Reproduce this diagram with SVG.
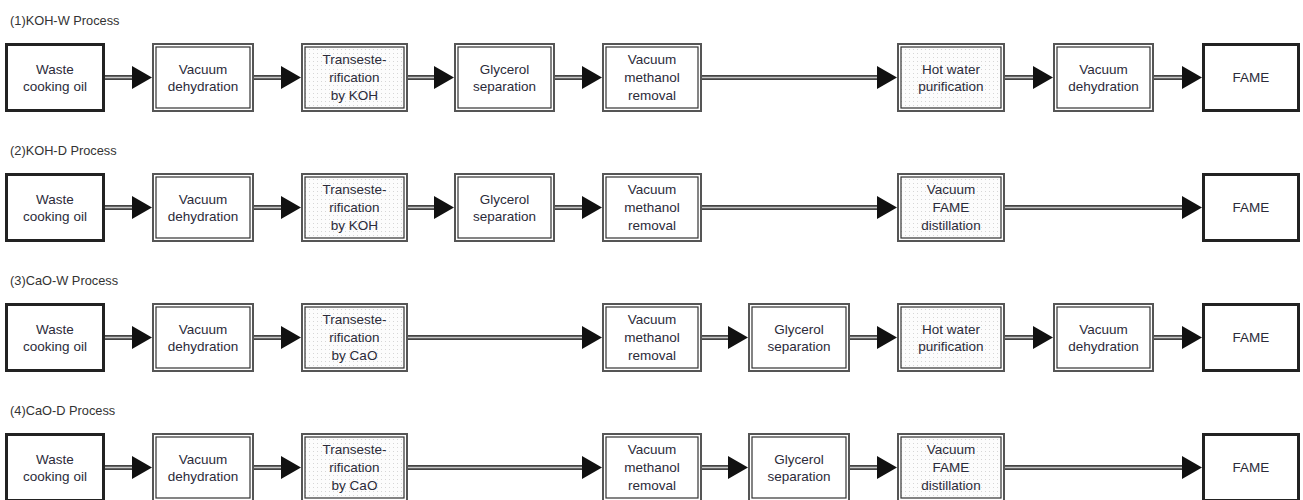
<svg xmlns="http://www.w3.org/2000/svg" width="1303" height="500" viewBox="0 0 1303 500">
<style>
.ttl{font-family:"Liberation Sans",Arial,sans-serif;font-size:12.8px;fill:#333}
.lbl{font-family:"Liberation Sans",Arial,sans-serif;font-size:13.5px;fill:#2b2b3a;text-anchor:middle}
.o{fill:#fff;stroke:#555;stroke-width:2}
.i{fill:#fff;stroke:#333;stroke-width:1.2}
.d{fill:url(#dots);stroke:#333;stroke-width:1.2}
.t{fill:#fff;stroke:#222;stroke-width:3}
.so{stroke:#444;stroke-width:5;fill:none}
.si{stroke:#c8c8c8;stroke-width:1.4;fill:none}
.h{fill:#111}
</style>
<defs>
<pattern id="dots" width="4" height="4" patternUnits="userSpaceOnUse">
<rect width="4" height="4" fill="#fcfcfc"/>
<rect x="1" y="1" width="1" height="1" fill="#d6d6d6"/>
</pattern>
</defs>
<rect width="1303" height="500" fill="#fff"/>
<g id="titles">
<text class="ttl" x="10" y="25">(1)KOH-W Process</text>
<text class="ttl" x="10" y="155">(2)KOH-D Process</text>
<text class="ttl" x="10" y="285">(3)CaO-W Process</text>
<text class="ttl" x="10" y="415">(4)CaO-D Process</text>
</g>
<g id="connectors">
<g transform="translate(0,0)">
<path class="so" d="M105 77.5H134M254 77.5H283M408 77.5H436M555 77.5H584M702 77.5H879M1005 77.5H1035M1154 77.5H1184"/>
<path class="si" d="M105 77.5H134M254 77.5H283M408 77.5H436M555 77.5H584M702 77.5H879M1005 77.5H1035M1154 77.5H1184"/>
<path class="h" d="M132 66L152 77.5L132 89ZM281 66L301 77.5L281 89ZM434 66L454 77.5L434 89ZM582 66L602 77.5L582 89ZM877 66L897 77.5L877 89ZM1033 66L1053 77.5L1033 89ZM1182 66L1202 77.5L1182 89Z"/>
</g>
<g transform="translate(0,130)">
<path class="so" d="M105 77.5H134M254 77.5H283M408 77.5H436M555 77.5H584M702 77.5H879M1005 77.5H1184"/>
<path class="si" d="M105 77.5H134M254 77.5H283M408 77.5H436M555 77.5H584M702 77.5H879M1005 77.5H1184"/>
<path class="h" d="M132 66L152 77.5L132 89ZM281 66L301 77.5L281 89ZM434 66L454 77.5L434 89ZM582 66L602 77.5L582 89ZM877 66L897 77.5L877 89ZM1182 66L1202 77.5L1182 89Z"/>
</g>
<g transform="translate(0,260)">
<path class="so" d="M105 77.5H134M254 77.5H283M408 77.5H584M702 77.5H730M850 77.5H879M1005 77.5H1035M1154 77.5H1184"/>
<path class="si" d="M105 77.5H134M254 77.5H283M408 77.5H584M702 77.5H730M850 77.5H879M1005 77.5H1035M1154 77.5H1184"/>
<path class="h" d="M132 66L152 77.5L132 89ZM281 66L301 77.5L281 89ZM582 66L602 77.5L582 89ZM728 66L748 77.5L728 89ZM877 66L897 77.5L877 89ZM1033 66L1053 77.5L1033 89ZM1182 66L1202 77.5L1182 89Z"/>
</g>
<g transform="translate(0,390)">
<path class="so" d="M105 77.5H134M254 77.5H283M408 77.5H584M702 77.5H730M850 77.5H879M1005 77.5H1184"/>
<path class="si" d="M105 77.5H134M254 77.5H283M408 77.5H584M702 77.5H730M850 77.5H879M1005 77.5H1184"/>
<path class="h" d="M132 66L152 77.5L132 89ZM281 66L301 77.5L281 89ZM582 66L602 77.5L582 89ZM728 66L748 77.5L728 89ZM877 66L897 77.5L877 89ZM1182 66L1202 77.5L1182 89Z"/>
</g>
</g>

<g id="row1">
<g id="r1-waste"><rect class="t" x="6.5" y="44.5" width="97" height="66"/><text class="lbl" x="55" y="73.5">Waste</text><text class="lbl" x="55" y="90.5">cooking oil</text></g>
<g id="r1-vacdehyd"><rect class="o" x="153" y="44" width="100" height="67"/><rect class="i" x="156" y="47" width="94" height="61"/><text class="lbl" x="203" y="73.5">Vacuum</text><text class="lbl" x="203" y="90.5">dehydration</text></g>
<g id="r1-trans"><rect class="o" x="302" y="44" width="105" height="67"/><rect class="d" x="305" y="47" width="99" height="61"/><text class="lbl" x="354.5" y="64">Transeste-</text><text class="lbl" x="354.5" y="82">rification</text><text class="lbl" x="354.5" y="100">by KOH</text></g>
<g id="r1-glycerol"><rect class="o" x="455" y="44" width="99" height="67"/><rect class="i" x="458" y="47" width="93" height="61"/><text class="lbl" x="504.5" y="73.5">Glycerol</text><text class="lbl" x="504.5" y="90.5">separation</text></g>
<g id="r1-methanol"><rect class="o" x="603" y="44" width="98" height="67"/><rect class="i" x="606" y="47" width="92" height="61"/><text class="lbl" x="652" y="64">Vacuum</text><text class="lbl" x="652" y="82">methanol</text><text class="lbl" x="652" y="100">removal</text></g>
<g id="r1-hotwater"><rect class="o" x="898" y="44" width="106" height="67"/><rect class="d" x="901" y="47" width="100" height="61"/><text class="lbl" x="951" y="73.5">Hot water</text><text class="lbl" x="951" y="90.5">purification</text></g>
<g id="r1-vacdehyd2"><rect class="o" x="1054" y="44" width="99" height="67"/><rect class="i" x="1057" y="47" width="93" height="61"/><text class="lbl" x="1103.5" y="73.5">Vacuum</text><text class="lbl" x="1103.5" y="90.5">dehydration</text></g>
<g id="r1-fame"><rect class="t" x="1203.5" y="44.5" width="95" height="66"/><text class="lbl" x="1251" y="82">FAME</text></g>
</g>

<g id="row2" transform="translate(0,130)">
<g id="r2-waste"><rect class="t" x="6.5" y="44.5" width="97" height="66"/><text class="lbl" x="55" y="73.5">Waste</text><text class="lbl" x="55" y="90.5">cooking oil</text></g>
<g id="r2-vacdehyd"><rect class="o" x="153" y="44" width="100" height="67"/><rect class="i" x="156" y="47" width="94" height="61"/><text class="lbl" x="203" y="73.5">Vacuum</text><text class="lbl" x="203" y="90.5">dehydration</text></g>
<g id="r2-trans"><rect class="o" x="302" y="44" width="105" height="67"/><rect class="d" x="305" y="47" width="99" height="61"/><text class="lbl" x="354.5" y="64">Transeste-</text><text class="lbl" x="354.5" y="82">rification</text><text class="lbl" x="354.5" y="100">by KOH</text></g>
<g id="r2-glycerol"><rect class="o" x="455" y="44" width="99" height="67"/><rect class="i" x="458" y="47" width="93" height="61"/><text class="lbl" x="504.5" y="73.5">Glycerol</text><text class="lbl" x="504.5" y="90.5">separation</text></g>
<g id="r2-methanol"><rect class="o" x="603" y="44" width="98" height="67"/><rect class="i" x="606" y="47" width="92" height="61"/><text class="lbl" x="652" y="64">Vacuum</text><text class="lbl" x="652" y="82">methanol</text><text class="lbl" x="652" y="100">removal</text></g>
<g id="r2-distill"><rect class="o" x="898" y="44" width="106" height="67"/><rect class="d" x="901" y="47" width="100" height="61"/><text class="lbl" x="951" y="64">Vacuum</text><text class="lbl" x="951" y="82">FAME</text><text class="lbl" x="951" y="100">distillation</text></g>
<g id="r2-fame"><rect class="t" x="1203.5" y="44.5" width="95" height="66"/><text class="lbl" x="1251" y="82">FAME</text></g>
</g>

<g id="row3" transform="translate(0,260)">
<g id="r3-waste"><rect class="t" x="6.5" y="44.5" width="97" height="66"/><text class="lbl" x="55" y="73.5">Waste</text><text class="lbl" x="55" y="90.5">cooking oil</text></g>
<g id="r3-vacdehyd"><rect class="o" x="153" y="44" width="100" height="67"/><rect class="i" x="156" y="47" width="94" height="61"/><text class="lbl" x="203" y="73.5">Vacuum</text><text class="lbl" x="203" y="90.5">dehydration</text></g>
<g id="r3-trans"><rect class="o" x="302" y="44" width="105" height="67"/><rect class="d" x="305" y="47" width="99" height="61"/><text class="lbl" x="354.5" y="64">Transeste-</text><text class="lbl" x="354.5" y="82">rification</text><text class="lbl" x="354.5" y="100">by CaO</text></g>
<g id="r3-methanol"><rect class="o" x="603" y="44" width="98" height="67"/><rect class="i" x="606" y="47" width="92" height="61"/><text class="lbl" x="652" y="64">Vacuum</text><text class="lbl" x="652" y="82">methanol</text><text class="lbl" x="652" y="100">removal</text></g>
<g id="r3-glycerol"><rect class="o" x="749" y="44" width="100" height="67"/><rect class="i" x="752" y="47" width="94" height="61"/><text class="lbl" x="799" y="73.5">Glycerol</text><text class="lbl" x="799" y="90.5">separation</text></g>
<g id="r3-hotwater"><rect class="o" x="898" y="44" width="106" height="67"/><rect class="d" x="901" y="47" width="100" height="61"/><text class="lbl" x="951" y="73.5">Hot water</text><text class="lbl" x="951" y="90.5">purification</text></g>
<g id="r3-vacdehyd2"><rect class="o" x="1054" y="44" width="99" height="67"/><rect class="i" x="1057" y="47" width="93" height="61"/><text class="lbl" x="1103.5" y="73.5">Vacuum</text><text class="lbl" x="1103.5" y="90.5">dehydration</text></g>
<g id="r3-fame"><rect class="t" x="1203.5" y="44.5" width="95" height="66"/><text class="lbl" x="1251" y="82">FAME</text></g>
</g>

<g id="row4" transform="translate(0,390)">
<g id="r4-waste"><rect class="t" x="6.5" y="44.5" width="97" height="66"/><text class="lbl" x="55" y="73.5">Waste</text><text class="lbl" x="55" y="90.5">cooking oil</text></g>
<g id="r4-vacdehyd"><rect class="o" x="153" y="44" width="100" height="67"/><rect class="i" x="156" y="47" width="94" height="61"/><text class="lbl" x="203" y="73.5">Vacuum</text><text class="lbl" x="203" y="90.5">dehydration</text></g>
<g id="r4-trans"><rect class="o" x="302" y="44" width="105" height="67"/><rect class="d" x="305" y="47" width="99" height="61"/><text class="lbl" x="354.5" y="64">Transeste-</text><text class="lbl" x="354.5" y="82">rification</text><text class="lbl" x="354.5" y="100">by CaO</text></g>
<g id="r4-methanol"><rect class="o" x="603" y="44" width="98" height="67"/><rect class="i" x="606" y="47" width="92" height="61"/><text class="lbl" x="652" y="64">Vacuum</text><text class="lbl" x="652" y="82">methanol</text><text class="lbl" x="652" y="100">removal</text></g>
<g id="r4-glycerol"><rect class="o" x="749" y="44" width="100" height="67"/><rect class="i" x="752" y="47" width="94" height="61"/><text class="lbl" x="799" y="73.5">Glycerol</text><text class="lbl" x="799" y="90.5">separation</text></g>
<g id="r4-distill"><rect class="o" x="898" y="44" width="106" height="67"/><rect class="d" x="901" y="47" width="100" height="61"/><text class="lbl" x="951" y="64">Vacuum</text><text class="lbl" x="951" y="82">FAME</text><text class="lbl" x="951" y="100">distillation</text></g>
<g id="r4-fame"><rect class="t" x="1203.5" y="44.5" width="95" height="66"/><text class="lbl" x="1251" y="82">FAME</text></g>
</g>
</svg>
